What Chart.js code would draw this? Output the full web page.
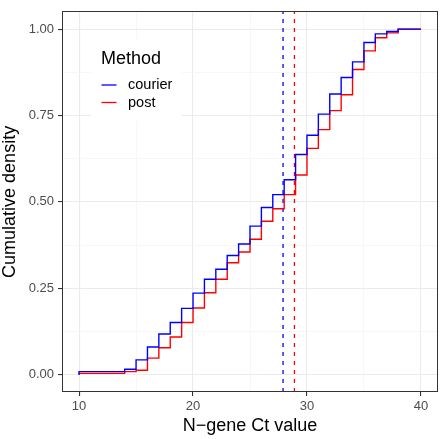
<!DOCTYPE html>
<html>
<head>
<meta charset="utf-8">
<script src="https://cdn.jsdelivr.net/npm/chart.js@4.4.1/dist/chart.umd.min.js"></script>
<style>
  html, body { margin: 0; padding: 0; background: #fff; }
  #wrap { width: 440px; height: 439px; }
</style>
</head>
<body>
<div id="wrap"><canvas id="myChart" width="440" height="439"></canvas></div>
<script>
// Ct values where the ECDF steps, and cumulative density after each step
const ctCourier = [10, 14, 15, 16, 17, 18, 19, 20, 21, 22, 23, 24, 25, 26, 27, 28, 29, 30, 31, 32, 33, 34, 35, 36, 37, 38, 39, 40];
const densCourier = [0, 0.009, 0.016, 0.043, 0.080, 0.118, 0.151, 0.192, 0.236, 0.276, 0.305, 0.345, 0.378, 0.430, 0.484, 0.521, 0.564, 0.637, 0.693, 0.754, 0.812, 0.860, 0.905, 0.961, 0.986, 0.993, 1.0, 1.0];

const ctPost = [10, 14, 15, 16, 17, 18, 19, 20, 21, 22, 23, 24, 25, 26, 27, 28, 29, 30, 31, 32, 33, 34, 35, 36, 37, 38, 39, 40];
const densPost = [0, 0.004, 0.009, 0.013, 0.048, 0.078, 0.109, 0.151, 0.193, 0.237, 0.276, 0.324, 0.355, 0.392, 0.444, 0.480, 0.521, 0.578, 0.655, 0.709, 0.764, 0.810, 0.883, 0.937, 0.975, 0.989, 1.0, 1.0];

// median Ct per method (dashed lines)
const medianCourier = 27.9;
const medianPost = 28.9;

const methods = ["courier", "post"];
const methodColors = ["#0000FF", "#FF0000"];

const xTicks = [10, 15, 20, 25, 30, 35, 40];
const yTicks = [0, 0.125, 0.25, 0.375, 0.5, 0.625, 0.75, 0.875, 1];

function toPoints(xs, ys) {
  return xs.map((x, i) => ({ x: x, y: ys[i] }));
}

function isMajorX(v) { return v % 10 === 0; }
function isMajorY(v) { return Math.abs(v / 0.25 - Math.round(v / 0.25)) < 1e-6; }

// panel border + legend inside the panel
const panelExtras = {
  id: "panelExtras",
  afterDraw(chart) {
    const { ctx, chartArea } = chart;
    ctx.save();
    ctx.strokeStyle = "#333333";
    ctx.lineWidth = 1;
    ctx.strokeRect(Math.round(chartArea.left) + 0.5, Math.round(chartArea.top) - 0.5,
      Math.round(chartArea.right - chartArea.left) - 1, Math.round(chartArea.bottom - chartArea.top));

    // legend
    ctx.fillStyle = "#FFFFFF";
    ctx.fillRect(91, 39, 91, 82);
    ctx.fillStyle = "#000000";
    ctx.font = "18px 'Liberation Sans', Arial, sans-serif";
    ctx.textBaseline = "alphabetic";
    ctx.textAlign = "left";
    ctx.fillText("Method", 101, 64);
    ctx.font = "14.5px 'Liberation Sans', Arial, sans-serif";
    ctx.textBaseline = "middle";
    const rows = [85, 102.5];
    methods.forEach((m, i) => {
      ctx.strokeStyle = methodColors[i];
      ctx.lineWidth = 1.3;
      ctx.beginPath();
      ctx.moveTo(101.5, rows[i]);
      ctx.lineTo(116.5, rows[i]);
      ctx.stroke();
      ctx.fillStyle = "#000000";
      ctx.fillText(m, 128, rows[i]);
    });
    ctx.restore();
  },
};

const ctx = document.getElementById("myChart");

new Chart(ctx, {
  type: "line",
  data: {
    datasets: [
      {
        label: "courier",
        data: toPoints(ctCourier, densCourier),
        borderColor: methodColors[0],
        borderWidth: 1.4,
        stepped: "after",
        pointRadius: 0,
      },
      {
        label: "post",
        data: toPoints(ctPost, densPost),
        borderColor: methodColors[1],
        borderWidth: 1.4,
        stepped: "after",
        pointRadius: 0,
      },
      {
        label: "median courier",
        data: [{ x: medianCourier, y: -0.05 }, { x: medianCourier, y: 1.05 }],
        borderColor: methodColors[0],
        borderWidth: 1.3,
        borderDash: [4, 5],
        pointRadius: 0,
      },
      {
        label: "median post",
        data: [{ x: medianPost, y: -0.05 }, { x: medianPost, y: 1.05 }],
        borderColor: methodColors[1],
        borderWidth: 1.3,
        borderDash: [4, 5],
        pointRadius: 0,
      },
    ],
  },
  options: {
    responsive: false,
    animation: false,
    layout: { padding: { top: 2, right: 2, left: 0, bottom: 0 } },
    plugins: {
      legend: { display: false },
      tooltip: { enabled: false },
    },
    scales: {
      x: {
        type: "linear",
        min: 8.5,
        max: 41.5,
        afterBuildTicks: (s) => { s.ticks = xTicks.map((v) => ({ value: v })); },
        afterFit: (s) => { s.height = 47; },
        border: { display: false },
        grid: {
          color: (c) => (isMajorX(c.tick.value) ? "#EBEBEB" : "#F3F3F3"),
          lineWidth: (c) => (isMajorX(c.tick.value) ? 1.1 : 0.7),
          tickColor: (c) => (isMajorX(c.tick.value) ? "#333333" : "rgba(0,0,0,0)"),
          tickLength: 4,
        },
        ticks: {
          autoSkip: false,
          maxRotation: 0,
          padding: 3,
          color: "#4D4D4D",
          font: { family: "'Liberation Sans', Arial, sans-serif", size: 13 },
          callback: (v) => (isMajorX(v) ? String(v) : ""),
        },
        title: {
          display: true,
          text: "N\u2212gene Ct value",
          color: "#000000",
          font: { family: "'Liberation Sans', Arial, sans-serif", size: 18 },
          padding: { top: 0, bottom: 2 },
        },
      },
      y: {
        type: "linear",
        min: -0.05,
        max: 1.05,
        afterBuildTicks: (s) => { s.ticks = yTicks.map((v) => ({ value: v })); },
        afterFit: (s) => { s.width = 62; },
        border: { display: false },
        grid: {
          color: (c) => (isMajorY(c.tick.value) ? "#EBEBEB" : "#F3F3F3"),
          lineWidth: (c) => (isMajorY(c.tick.value) ? 1.1 : 0.7),
          tickColor: (c) => (isMajorY(c.tick.value) ? "#333333" : "rgba(0,0,0,0)"),
          tickLength: 4,
        },
        ticks: {
          autoSkip: false,
          padding: 4,
          color: "#4D4D4D",
          font: { family: "'Liberation Sans', Arial, sans-serif", size: 13 },
          callback: (v) => (isMajorY(v) ? v.toFixed(2) : ""),
        },
        title: {
          display: true,
          text: "Cumulative density",
          color: "#000000",
          font: { family: "'Liberation Sans', Arial, sans-serif", size: 18, lineHeight: 1 },
          padding: { top: 1, bottom: 0 },
        },
      },
    },
  },
  plugins: [panelExtras],
});
</script>
</body>
</html>
